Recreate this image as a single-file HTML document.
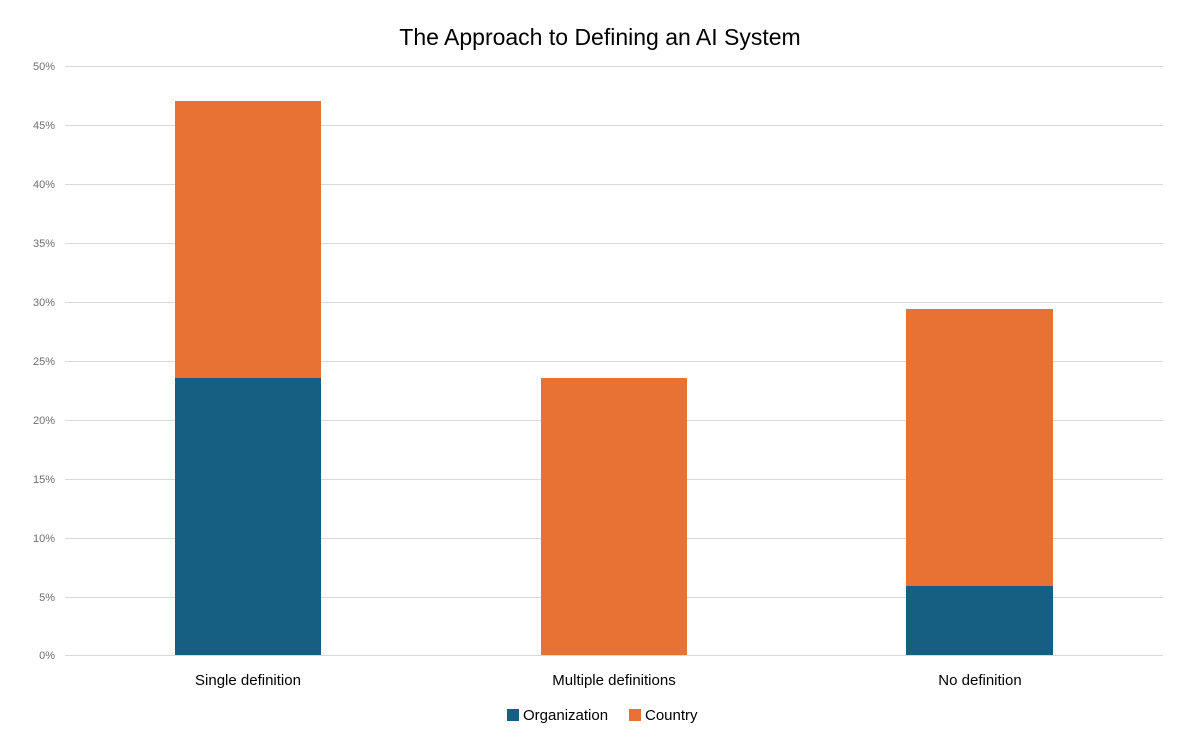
<!DOCTYPE html>
<html><head><meta charset="utf-8"><style>
html,body{margin:0;padding:0;background:#fff;}
svg{display:block;font-family:"Liberation Sans",sans-serif;}
</style></head><body>
<svg width="1200" height="750" viewBox="0 0 1200 750" xmlns="http://www.w3.org/2000/svg">
<rect width="1200" height="750" fill="#fff"/>
<text x="600" y="45" text-anchor="middle" font-size="23" fill="#000">The Approach to Defining an AI System</text>
<g stroke="#d9d9d9" stroke-width="1">
<line x1="65" x2="1163" y1="66.5" y2="66.5"/>
<line x1="65" x2="1163" y1="125.5" y2="125.5"/>
<line x1="65" x2="1163" y1="184.5" y2="184.5"/>
<line x1="65" x2="1163" y1="243.5" y2="243.5"/>
<line x1="65" x2="1163" y1="302.5" y2="302.5"/>
<line x1="65" x2="1163" y1="361.5" y2="361.5"/>
<line x1="65" x2="1163" y1="420.5" y2="420.5"/>
<line x1="65" x2="1163" y1="479.5" y2="479.5"/>
<line x1="65" x2="1163" y1="538.5" y2="538.5"/>
<line x1="65" x2="1163" y1="597.5" y2="597.5"/>
<line x1="65" x2="1163" y1="655.5" y2="655.5"/>
</g>
<g font-size="11" fill="#6e6e6e" text-anchor="end">
<text x="55" y="70">50%</text>
<text x="55" y="129">45%</text>
<text x="55" y="188">40%</text>
<text x="55" y="247">35%</text>
<text x="55" y="306">30%</text>
<text x="55" y="365">25%</text>
<text x="55" y="424">20%</text>
<text x="55" y="483">15%</text>
<text x="55" y="542">10%</text>
<text x="55" y="601">5%</text>
<text x="55" y="659">0%</text>
</g>
<rect x="175" y="101" width="146" height="277" fill="#e87233"/>
<rect x="175" y="378" width="146" height="277" fill="#175f82"/>
<rect x="541" y="378" width="146" height="277" fill="#e87233"/>
<rect x="906" y="309" width="147" height="277" fill="#e87233"/>
<rect x="906" y="586" width="147" height="69" fill="#175f82"/>
<g font-size="15" fill="#000" text-anchor="middle">
<text x="248" y="685">Single definition</text>
<text x="614" y="685">Multiple definitions</text>
<text x="980" y="685">No definition</text>
</g>
<rect x="507" y="709" width="12" height="12" fill="#175f82"/>
<text x="523" y="720" font-size="15" fill="#000">Organization</text>
<rect x="629" y="709" width="12" height="12" fill="#e87233"/>
<text x="645" y="720" font-size="15" fill="#000">Country</text>
</svg>
</body></html>
